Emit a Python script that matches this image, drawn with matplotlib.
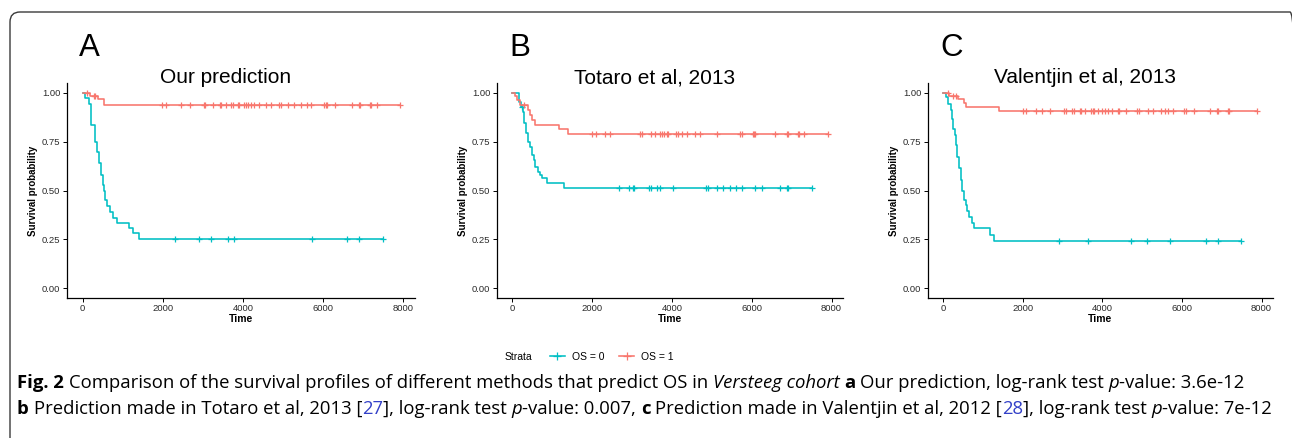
import matplotlib
matplotlib.use('Agg')
import matplotlib.pyplot as plt
import numpy as np
from matplotlib.lines import Line2D
from matplotlib.patches import FancyBboxPatch
from matplotlib.transforms import IdentityTransform

W, H = 1292, 438
RED = '#F8766D'
CYAN = '#00BFC4'
PLOT_FONT = 'Liberation Sans'
CAP_FONT = 'Open Sans'

letters = ['A', 'B', 'C']
titles = ['Our prediction', 'Totaro et al, 2013', 'Valentjin et al, 2013']

# ---- panel A: our prediction ----
a0_t = [67, 150, 217, 316, 358, 416, 466, 500, 533, 566, 616, 673, 748, 857, 1171, 1271, 1413]
a0_s = [0.973, 0.944, 0.834, 0.749, 0.698, 0.640, 0.580, 0.530, 0.495, 0.453, 0.419, 0.390,
        0.360, 0.335, 0.306, 0.281, 0.250]
a0_cens = [2310, 2916, 3200, 3640, 3790, 5717, 6597, 6903, 7487]
a1_t = [192, 383, 548]
a1_s = [0.986, 0.966, 0.940]
a1_cens = [110, 274, 316, 1994, 2093, 2467, 2692, 3033, 3065, 3265, 3424, 3464, 3574, 3706, 3748,
           3873, 3905, 4022, 4072, 4122, 4197, 4272, 4396, 4571, 4703, 4910, 4945, 5134, 5283,
           5443, 5593, 5707, 6031, 6074, 6106, 6290, 6714, 6888, 6921, 7163, 7195, 7337, 7918]

# ---- panel B: Totaro et al ----
b0_t = [175, 216, 258, 300, 341, 391, 433, 491, 533, 574, 633, 683, 741, 866, 1282]
b0_s = [0.952, 0.927, 0.900, 0.843, 0.792, 0.749, 0.724, 0.682, 0.656, 0.622, 0.597, 0.580,
        0.563, 0.538, 0.515]
b0_cens = [241, 2680, 2914, 3014, 3055, 3421, 3464, 3629, 3704, 4013, 4862, 4903, 5120, 5270,
           5445, 5594, 5744, 6077, 6269, 6710, 6876, 6901, 7510]
b1_t = [75, 116, 200, 391, 450, 491, 557, 1157, 1391]
b1_s = [0.986, 0.961, 0.936, 0.910, 0.885, 0.859, 0.837, 0.814, 0.788]
b1_cens = [280, 1998, 2090, 2315, 2455, 3197, 3254, 3464, 3571, 3704, 3754, 3796, 3863, 3888,
           4096, 4154, 4254, 4388, 4570, 4695, 5137, 5712, 5752, 6019, 6052, 6087, 6577, 6876,
           6901, 7160, 7185, 7310, 7900]

# ---- panel C: Valentjin et al ----
c0_t = [67, 125, 183, 208, 250, 292, 317, 350, 392, 433, 475, 517, 558, 600, 650, 708, 767,
        1167, 1267]
c0_s = [0.978, 0.944, 0.910, 0.868, 0.817, 0.783, 0.732, 0.673, 0.614, 0.555, 0.495, 0.453,
        0.428, 0.394, 0.365, 0.335, 0.306, 0.272, 0.242]
c0_cens = [2918, 3625, 4710, 5125, 5710, 6593, 6900, 7485]
c1_t = [146, 375, 525, 575, 1408]
c1_s = [0.986, 0.966, 0.946, 0.925, 0.906]
c1_cens = [110, 250, 308, 2000, 2085, 2318, 2468, 2685, 3043, 3085, 3225, 3285, 3425, 3460,
           3568, 3718, 3760, 3785, 3875, 4000, 4068, 4143, 4235, 4400, 4425, 4585, 4868, 4925,
           5143, 5275, 5460, 5575, 5650, 5775, 6060, 6100, 6293, 6693, 6885, 6910, 7150, 7185,
           7875]

panels = [
    ((a0_t, a0_s, a0_cens), (a1_t, a1_s, a1_cens)),
    ((b0_t, b0_s, b0_cens), (b1_t, b1_s, b1_cens)),
    ((c0_t, c0_s, c0_cens), (c1_t, c1_s, c1_cens)),
]

# axes left edge / width in pixels
ax_left = [66.7, 496.7, 927.7]
ax_width = [348.3, 346.6, 345.6]
ax_top, ax_bottom = 83, 298


def fx(px):
    return px / W


def fy(py):
    return 1 - py / H


def km(ax, t, s, cens, color):
    t = np.asarray(t, float)
    s = np.asarray(s, float)
    cens = np.asarray(cens, float)
    ax.step(np.r_[0, t, cens[-1]], np.r_[1, s, s[-1]], where='post', color=color, lw=1.15)
    s_c = np.r_[1, s][np.searchsorted(t, cens, side='right')]
    ax.plot(cens, s_c, ls='none', marker='+', ms=5, mew=0.9, color=color)


fig = plt.figure(figsize=(W / 100, H / 100), dpi=100)

for i, (lo, hi) in enumerate(panels):
    ax = fig.add_axes([fx(ax_left[i]), fy(ax_bottom), fx(ax_width[i]), (ax_bottom - ax_top) / H])
    km(ax, *lo, CYAN)
    km(ax, *hi, RED)
    ax.set_xlim(-395, 8295)
    ax.set_ylim(-0.05, 1.05)
    ax.set_xticks([0, 2000, 4000, 6000, 8000])
    ax.set_yticks([0, 0.25, 0.5, 0.75, 1.0])
    ax.set_yticklabels(['0.00', '0.25', '0.50', '0.75', '1.00'])
    for sp in ['top', 'right']:
        ax.spines[sp].set_visible(False)
    for sp in ['left', 'bottom']:
        ax.spines[sp].set_linewidth(0.9)
    ax.tick_params(length=3, width=0.7, pad=1.5, labelsize=6.8, labelcolor='#2b2b2b')
    for lab in ax.get_xticklabels() + ax.get_yticklabels():
        lab.set_family(PLOT_FONT)

    cx = ax_left[i] + ax_width[i] / 2
    fig.text(fx(cx), fy(319), 'Time', ha='center', va='center', fontsize=7.5,
             fontweight='bold', family=PLOT_FONT)
    fig.text(fx(ax_left[i] - 33.5), fy(190.5), 'Survival probability', rotation=90,
             ha='center', va='center', fontsize=7, fontweight='bold', family=PLOT_FONT)
    fig.text(fx(cx - 15), fy(83), titles[i], ha='center',
             va='baseline', fontsize=15, family=PLOT_FONT)
    fig.text(fx(ax_left[i] + 12.5), fy(56), letters[i], ha='left', va='baseline',
             fontsize=22.5, family=PLOT_FONT)

# legend
fig.text(fx(505), fy(357), 'Strata', ha='left', va='center', fontsize=7.5, family=PLOT_FONT)
handles = [Line2D([], [], color=CYAN, marker='+', lw=1.15, ms=5.5, mew=0.9, label='OS = 0'),
           Line2D([], [], color=RED, marker='+', lw=1.15, ms=5.5, mew=0.9, label='OS = 1')]
fig.legend(handles=handles, loc='center left', bbox_to_anchor=(fx(550), fy(357)), ncol=2,
           frameon=False, prop={'family': PLOT_FONT, 'size': 7.5}, handlelength=1.4,
           handletextpad=0.7, columnspacing=1.45, borderpad=0, borderaxespad=0)

# frame around the figure
frame = FancyBboxPatch((10, -40), 1290, H - 12 + 40, boxstyle='round,pad=0,rounding_size=10',
                       transform=IdentityTransform(), fill=False, ec='#3a3a3a', lw=1.0)
fig.add_artist(frame)

# caption with mixed styles
r = fig.canvas.get_renderer()
CAP_SIZE = 13.3
BLUE = '#3340c8'


def piece_width(s, **kw):
    t = fig.text(0, 0, s, fontsize=CAP_SIZE, family=CAP_FONT, **kw)
    w = t.get_window_extent(r).width
    t.remove()
    return w


space = piece_width('a a') - piece_width('aa')

line1 = [('Fig. 2', 'b', 0), ('Comparison of the survival profiles of different methods that '
                              'predict OS in', 'n', 1), ('Versteeg cohort', 'i', 1), ('a', 'b', 1),
         ('Our prediction, log-rank test', 'n', 1), ('p', 'i', 1), ('-value: 3.6e-12', 'n', 0)]
line2 = [('b', 'b', 0), ('Prediction made in Totaro et al, 2013 [', 'n', 1), ('27', 'u', 0),
         ('], log-rank test', 'n', 0), ('p', 'i', 1), ('-value: 0.007,', 'n', 0), ('c', 'b', 1),
         ('Prediction made in Valentjin et al, 2012 [', 'n', 1), ('28', 'u', 0),
         ('], log-rank test', 'n', 0), ('p', 'i', 1), ('-value: 7e-12', 'n', 0)]

styles = {'n': {}, 'b': {'fontweight': 'bold'}, 'i': {'fontstyle': 'italic'},
          'u': {'color': BLUE}}

for line, base in [(line1, 388), (line2, 414)]:
    x = 17
    for s, st, gap in line:
        x += gap * space
        t = fig.text(fx(x), fy(base), s, fontsize=CAP_SIZE, family=CAP_FONT, va='baseline',
                     **styles[st])
        x += t.get_window_extent(r).width

fig.savefig('out.png', dpi=100)
